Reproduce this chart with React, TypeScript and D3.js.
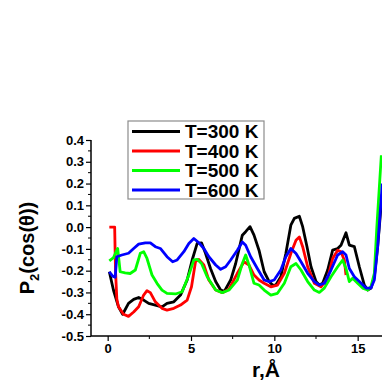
import React, { useEffect, useRef } from "react";
import * as d3 from "d3";

const seriesNames = ["T=300 K", "T=400 K", "T=500 K", "T=600 K"];
const seriesColors = ["#000000", "#ff0000", "#00ff00", "#0000ff"];

const r300 = [0.1, 0.35, 0.65, 0.9, 1.25, 1.56, 1.86, 2.16, 2.46, 2.86, 3.26, 3.56, 3.97, 4.37, 4.77, 5.07, 5.37, 5.63, 5.87, 6.17, 6.48, 6.78, 7.0, 7.38, 7.68, 8.08, 8.28, 8.54, 8.78, 9.08, 9.39, 9.69, 9.89, 10.09, 10.39, 10.69, 10.99, 11.2, 11.5, 11.7, 11.96, 12.2, 12.5, 12.7, 12.9, 13.2, 13.5, 13.8, 14.0, 14.3, 14.5, 14.8, 15.1, 15.4, 15.6, 15.8, 16.0, 16.2, 16.46];
const p300 = [-0.205, -0.29, -0.366, -0.4, -0.35, -0.332, -0.323, -0.335, -0.35, -0.358, -0.366, -0.35, -0.343, -0.312, -0.243, -0.151, -0.075, -0.072, -0.12, -0.19, -0.25, -0.289, -0.295, -0.243, -0.167, -0.037, -0.021, 0.002, -0.037, -0.106, -0.205, -0.25, -0.266, -0.266, -0.228, -0.121, 0.009, 0.04, 0.05, 0.002, -0.09, -0.182, -0.25, -0.266, -0.258, -0.197, -0.106, -0.098, -0.083, -0.026, -0.083, -0.09, -0.182, -0.266, -0.289, -0.28, -0.228, -0.09, 0.15];

const r400 = [0.1, 0.42, 0.47, 0.55, 0.65, 0.95, 1.25, 1.56, 1.86, 2.16, 2.36, 2.56, 2.86, 3.26, 3.56, 3.97, 4.37, 4.77, 5.03, 5.27, 5.47, 5.77, 6.07, 6.48, 6.88, 7.28, 7.78, 8.18, 8.48, 8.78, 9.08, 9.39, 9.79, 10.19, 10.6, 10.99, 11.3, 11.5, 11.7, 12.0, 12.4, 12.8, 13.2, 13.5, 13.8, 14.0, 14.2, 14.3];
const p400 = [0.0, 0.0, -0.2, -0.33, -0.366, -0.4, -0.41, -0.39, -0.366, -0.312, -0.292, -0.301, -0.343, -0.373, -0.381, -0.373, -0.358, -0.335, -0.274, -0.159, -0.148, -0.174, -0.243, -0.289, -0.301, -0.285, -0.212, -0.159, -0.174, -0.22, -0.243, -0.258, -0.274, -0.266, -0.212, -0.121, -0.06, -0.045, -0.09, -0.182, -0.258, -0.274, -0.235, -0.144, -0.106, -0.113, -0.152, -0.22];

const r500 = [0.1, 0.35, 0.6, 0.75, 1.05, 1.35, 1.66, 1.96, 2.16, 2.36, 2.66, 2.96, 3.26, 3.56, 4.07, 4.47, 4.87, 5.17, 5.37, 5.63, 5.97, 6.48, 6.88, 7.28, 7.78, 8.08, 8.28, 8.48, 8.78, 9.08, 9.39, 9.79, 10.19, 10.6, 10.99, 11.3, 11.6, 12.0, 12.4, 12.7, 13.0, 13.4, 13.8, 14.1, 14.3, 14.5, 14.7, 15.0, 15.3, 15.6, 15.8, 16.0, 16.15, 16.42];
const p500 = [-0.155, -0.14, -0.098, -0.205, -0.21, -0.213, -0.197, -0.12, -0.113, -0.144, -0.22, -0.258, -0.289, -0.304, -0.307, -0.297, -0.22, -0.151, -0.148, -0.167, -0.228, -0.289, -0.301, -0.289, -0.243, -0.167, -0.128, -0.174, -0.258, -0.266, -0.289, -0.312, -0.304, -0.258, -0.182, -0.167, -0.197, -0.25, -0.289, -0.3, -0.28, -0.228, -0.182, -0.152, -0.19, -0.25, -0.235, -0.258, -0.28, -0.289, -0.273, -0.212, 0.0, 0.33];

const r600 = [0.1, 0.3, 0.45, 0.55, 0.85, 1.25, 1.56, 1.86, 2.26, 2.56, 2.86, 3.16, 3.56, 3.9, 4.17, 4.57, 4.87, 5.17, 5.47, 5.77, 6.07, 6.48, 6.78, 7.08, 7.38, 7.78, 8.08, 8.28, 8.58, 8.98, 9.39, 9.69, 9.99, 10.39, 10.69, 10.99, 11.3, 11.6, 12.0, 12.4, 12.7, 13.0, 13.4, 13.8, 14.1, 14.3, 14.5, 14.8, 15.1, 15.5, 15.8, 16.0, 16.2, 16.48];
const p600 = [-0.205, -0.225, -0.23, -0.136, -0.128, -0.12, -0.098, -0.078, -0.072, -0.072, -0.09, -0.098, -0.136, -0.159, -0.151, -0.113, -0.075, -0.052, -0.072, -0.098, -0.136, -0.174, -0.194, -0.182, -0.151, -0.106, -0.068, -0.083, -0.136, -0.19, -0.243, -0.25, -0.243, -0.197, -0.136, -0.098, -0.121, -0.159, -0.212, -0.25, -0.266, -0.258, -0.197, -0.128, -0.113, -0.128, -0.19, -0.228, -0.25, -0.28, -0.28, -0.243, -0.09, 0.2];

const xTicks = [0, 5, 10, 15];
const yTicks = [0.4, 0.3, 0.2, 0.1, 0.0, -0.1, -0.2, -0.3, -0.4, -0.5];

const allR = [r300, r400, r500, r600];
const allP = [p300, p400, p500, p600];

const font = "'Liberation Sans', Arial, sans-serif";

function App() {
  const ref = useRef(null);

  useEffect(() => {
    const svg = d3.select(ref.current);
    svg.selectAll("*").remove();

    const x = d3.scaleLinear().domain([-1, 20]).range([91, 441]);
    const y = d3.scaleLinear().domain([-0.5, 0.4]).range([336, 140]);

    // axes
    const yAxis = svg
      .append("g")
      .attr("transform", "translate(91,0)")
      .call(
        d3
          .axisLeft(y)
          .tickValues(yTicks)
          .tickSize(5)
          .tickFormat(d => (+d).toFixed(1).replace("-0.0", "0.0"))
      );
    yAxis.select(".domain").attr("stroke-width", 1.5).attr("d", `M0,${y(0.4)}V${y(-0.5)}`);
    yAxis.selectAll(".tick line").attr("stroke-width", 1.2);
    yAxis
      .selectAll(".tick text")
      .attr("x", -7)
      .attr("font-family", font)
      .attr("font-weight", "bold")
      .attr("font-size", 13)
      .attr("fill", "#000");

    const yMinor = d3.range(-0.45, 0.4, 0.1);
    svg
      .append("g")
      .selectAll("line")
      .data(yMinor)
      .join("line")
      .attr("x1", 91)
      .attr("x2", 88)
      .attr("y1", d => y(d))
      .attr("y2", d => y(d))
      .attr("stroke", "#000")
      .attr("stroke-width", 1);

    const xAxis = svg
      .append("g")
      .attr("transform", "translate(0,336)")
      .call(d3.axisBottom(x).tickValues(xTicks).tickSize(5).tickFormat(d3.format("d")));
    xAxis.select(".domain").attr("stroke-width", 1.5).attr("d", `M${x(-1)},0H${x(20)}`);
    xAxis.selectAll(".tick line").attr("stroke-width", 1.2);
    xAxis
      .selectAll(".tick text")
      .attr("y", 8)
      .attr("font-family", font)
      .attr("font-weight", "bold")
      .attr("font-size", 13)
      .attr("fill", "#000");

    svg
      .append("g")
      .selectAll("line")
      .data([2.5, 7.5, 12.5])
      .join("line")
      .attr("x1", d => x(d))
      .attr("x2", d => x(d))
      .attr("y1", 336)
      .attr("y2", 339)
      .attr("stroke", "#000")
      .attr("stroke-width", 1);

    // curves
    const line = d3
      .line<number>()
      .x(d => d[0])
      .y(d => d[1]);

    allR.forEach((rs, i) => {
      const pts = rs.map((r, j) => [x(r), y(allP[i][j])]);
      svg
        .append("path")
        .attr("d", line(pts as any))
        .attr("fill", "none")
        .attr("stroke", seriesColors[i])
        .attr("stroke-width", 2.8)
        .attr("stroke-linejoin", "round");
    });

    // legend
    const lg = svg.append("g");
    lg.append("rect")
      .attr("x", 128)
      .attr("y", 121)
      .attr("width", 136)
      .attr("height", 78)
      .attr("fill", "#fff")
      .attr("stroke", "#8c8c8c")
      .attr("stroke-width", 1.2);
    const rows = lg
      .selectAll("g.row")
      .data(seriesNames)
      .join("g")
      .attr("class", "row")
      .attr("transform", (d, i) => `translate(0,${131.5 + i * 19.5})`);
    rows
      .append("line")
      .attr("x1", 132)
      .attr("x2", 180)
      .attr("stroke", (d, i) => seriesColors[i])
      .attr("stroke-width", 2.8);
    rows
      .append("text")
      .attr("x", 185)
      .attr("dy", "0.36em")
      .attr("font-family", font)
      .attr("font-weight", "bold")
      .attr("font-size", 19)
      .text(d => d);

    // titles
    svg
      .append("text")
      .attr("x", 266)
      .attr("y", 377)
      .attr("text-anchor", "middle")
      .attr("font-family", font)
      .attr("font-weight", "bold")
      .attr("font-size", 21)
      .text("r,Å");

    const yt = svg
      .append("text")
      .attr("transform", "translate(34,248) rotate(-90)")
      .attr("text-anchor", "middle")
      .attr("font-family", font)
      .attr("font-weight", "bold")
      .attr("font-size", 20);
    yt.append("tspan").text("P");
    yt.append("tspan").attr("font-size", 13).attr("dy", 5).text("2");
    yt.append("tspan").attr("dy", -5).text("(cos(θ))");
  }, []);

  return (
    <svg
      ref={ref}
      width={382}
      height={382}
      style={{ position: "absolute", left: 0, top: 0, background: "#fff" }}
    />
  );
}

export default App;
